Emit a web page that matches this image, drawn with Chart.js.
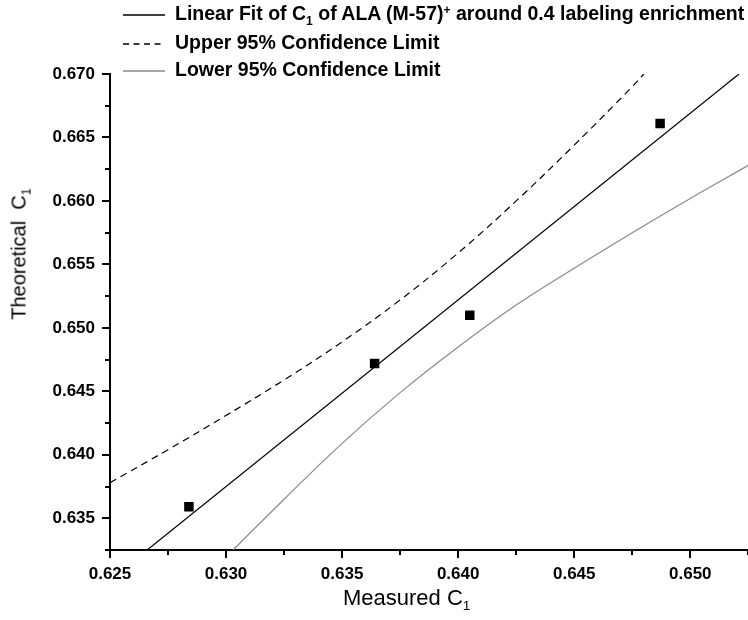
<!DOCTYPE html>
<html>
<head>
<meta charset="utf-8">
<script src="https://cdn.jsdelivr.net/npm/chart.js@4.4.0/dist/chart.umd.min.js"></script>
<style>
  html, body { margin: 0; padding: 0; background: #fff; }
  #wrap { position: relative; width: 748px; height: 620px; overflow: hidden; font-family: "Liberation Sans", Arial, sans-serif; }
  #chart { position: absolute; left: 0; top: 0; }
  .lg { position: absolute; left: 0; font-weight: bold; font-size: 19.5px; white-space: nowrap; color: #000; }
  .lg svg { position: absolute; left: 123px; top: 0; }
  .lg span.t { position: absolute; left: 175px; top: -12px; }
  .sub { font-size: 0.62em; position: relative; top: 0.38em; }
  .sup { font-size: 0.62em; position: relative; top: -0.5em; }
  .ttl { position: absolute; font-size: 22px; white-space: nowrap; color: #000; }
  #ytitle { left: 19px; top: 254px; font-size: 20px; transform: translate(-50%, -50%) rotate(-90deg); }
  #xtitle { left: 343px; top: 585px; }
</style>
</head>
<body>
<div id="wrap">
  <canvas id="chart" width="755" height="620"></canvas>

  <div class="lg" style="top:14px">
    <svg width="42" height="2"><line x1="0" y1="1" x2="42" y2="1" stroke="#000" stroke-width="1.3"/></svg>
    <span class="t">Linear Fit of C<span class="sub">1</span> of ALA (M-57)<span class="sup">+</span> around 0.4 labeling enrichment</span>
  </div>
  <div class="lg" style="top:43px">
    <svg width="42" height="2"><line x1="0" y1="1" x2="42" y2="1" stroke="#000" stroke-width="1.3" stroke-dasharray="6,4.5"/></svg>
    <span class="t">Upper 95% Confidence Limit</span>
  </div>
  <div class="lg" style="top:70px">
    <svg width="42" height="2"><line x1="0" y1="1" x2="42" y2="1" stroke="#888" stroke-width="1.3"/></svg>
    <span class="t">Lower 95% Confidence Limit</span>
  </div>

  <div class="ttl" id="ytitle">Theoretical&nbsp; C<span class="sub">1</span></div>
  <div class="ttl" id="xtitle">Measured C<span class="sub">1</span></div>
</div>

<script>
// measured vs theoretical C1 points
const measured = [0.6284, 0.6364, 0.6405, 0.6487];
const theoretical = [0.6359, 0.6472, 0.6510, 0.6661];

// linear fit, ends where it leaves the axes box
const fitX = [0.6266, 0.6521];
const fitY = [0.6325, 0.6700];

// 95% confidence limits
const upperX = [0.6250, 0.6275, 0.6300, 0.6325, 0.6350, 0.6375, 0.6400, 0.6425, 0.6450, 0.6475, 0.6480];
const upperY = [0.6378, 0.6404, 0.6431, 0.6459, 0.6489, 0.6522, 0.6559, 0.6600, 0.6644, 0.6690, 0.6700];
const lowerX = [0.6303, 0.6325, 0.6350, 0.6375, 0.6400, 0.6425, 0.6450, 0.6475, 0.6500, 0.6525];
const lowerY = [0.6325, 0.6365, 0.6409, 0.6449, 0.6485, 0.6518, 0.6547, 0.6575, 0.6602, 0.6628];

// ticks
const xMajor = [0.625, 0.630, 0.635, 0.640, 0.645, 0.650];
const xMinor = [0.6275, 0.6325, 0.6375, 0.6425, 0.6475, 0.6525];
const yMajor = [0.635, 0.640, 0.645, 0.650, 0.655, 0.660, 0.665, 0.670];
const yMinor = [0.6325, 0.6375, 0.6425, 0.6475, 0.6525, 0.6575, 0.6625, 0.6675];

const pts = (xs, ys) => xs.map((x, i) => ({ x: x, y: ys[i] }));

function setTicks(major, minor) {
  return scale => {
    scale.ticks = major.map(v => ({ value: v, isMajor: true }))
      .concat(minor.map(v => ({ value: v, isMajor: false })))
      .sort((a, b) => a.value - b.value);
  };
}

// draw the outward tick marks: long for labelled ticks, short in between
const tickMarks = {
  id: 'tickMarks',
  afterDraw(chart) {
    const ctx = chart.ctx;
    const xs = chart.scales.x, ys = chart.scales.y;
    const area = chart.chartArea;
    ctx.save();
    ctx.strokeStyle = '#000';
    ctx.lineWidth = 2;
    ctx.beginPath();
    xs.ticks.forEach(t => {
      const px = Math.round(xs.getPixelForValue(t.value));
      ctx.moveTo(px, area.bottom);
      ctx.lineTo(px, area.bottom + (t.isMajor ? 8 : 5));
    });
    ys.ticks.forEach(t => {
      const py = Math.round(ys.getPixelForValue(t.value));
      ctx.moveTo(area.left, py);
      ctx.lineTo(area.left - (t.isMajor ? 8 : 5), py);
    });
    ctx.stroke();
    ctx.restore();
  }
};

const tickFont = { family: '"Liberation Sans", Arial, sans-serif', size: 17, weight: 'bold' };

new Chart(document.getElementById('chart'), {
  type: 'scatter',
  data: {
    datasets: [
      {
        label: 'Data',
        data: pts(measured, theoretical),
        pointStyle: 'rect',
        pointRadius: 6.7,
        backgroundColor: '#000',
        borderColor: '#000',
        borderWidth: 0
      },
      {
        label: 'Linear Fit',
        data: pts(fitX, fitY),
        showLine: true,
        pointRadius: 0,
        borderColor: '#000',
        borderWidth: 1.2
      },
      {
        label: 'Upper 95% Confidence Limit',
        data: pts(upperX, upperY),
        showLine: true,
        pointRadius: 0,
        borderColor: '#000',
        borderWidth: 1.2,
        borderDash: [7, 5],
        tension: 0.4
      },
      {
        label: 'Lower 95% Confidence Limit',
        data: pts(lowerX, lowerY),
        showLine: true,
        pointRadius: 0,
        borderColor: '#8a8a8a',
        borderWidth: 1.2,
        tension: 0.4
      }
    ]
  },
  options: {
    responsive: false,
    animation: false,
    devicePixelRatio: 1,
    layout: { padding: { top: 74, right: 0, bottom: 0, left: 0 } },
    plugins: {
      legend: { display: false },
      tooltip: { enabled: false }
    },
    scales: {
      x: {
        type: 'linear',
        min: 0.625,
        max: 0.6525,
        afterBuildTicks: setTicks(xMajor, xMinor),
        afterFit: s => { s.height = 70; },
        grid: { display: true, drawOnChartArea: false, tickLength: 8, tickColor: 'rgba(0,0,0,0)' },
        border: { display: true, color: '#000', width: 2 },
        ticks: {
          color: '#000',
          font: tickFont,
          padding: 6,
          maxRotation: 0,
          autoSkip: false,
          callback: (v, i, ticks) => ticks[i].isMajor ? v.toFixed(3) : ''
        }
      },
      y: {
        type: 'linear',
        min: 0.6325,
        max: 0.670,
        afterBuildTicks: setTicks(yMajor, yMinor),
        afterFit: s => { s.width = 110; },
        grid: { display: true, drawOnChartArea: false, tickLength: 8, tickColor: 'rgba(0,0,0,0)' },
        border: { display: true, color: '#000', width: 2 },
        ticks: {
          color: '#000',
          font: tickFont,
          padding: 7,
          autoSkip: false,
          callback: (v, i, ticks) => ticks[i].isMajor ? v.toFixed(3) : ''
        }
      }
    }
  },
  plugins: [tickMarks]
});
</script>
</body>
</html>
